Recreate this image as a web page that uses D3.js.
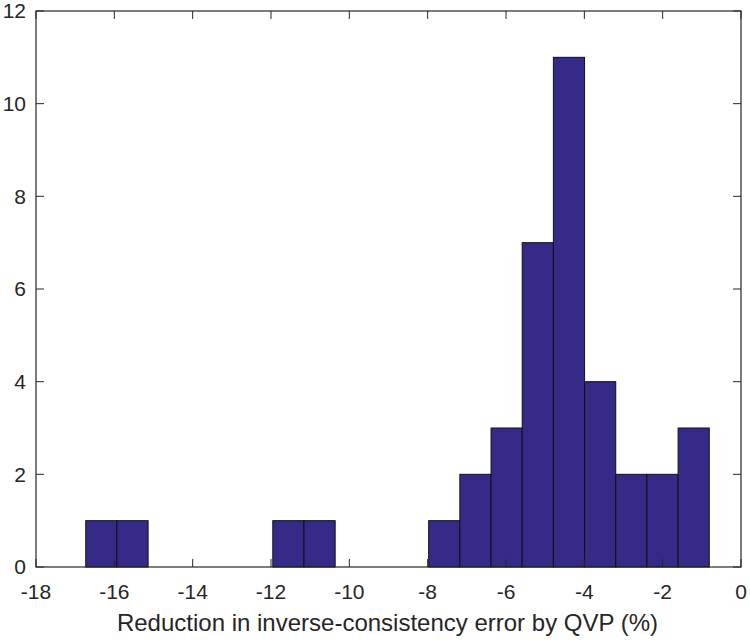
<!DOCTYPE html>
<html>
<head>
<meta charset="utf-8">
<script src="https://cdn.jsdelivr.net/npm/d3@7"></script>
<style>
  body { margin: 0; background: #fff; }
  text { font-family: "Liberation Sans", Arial, sans-serif; fill: #262626; }
</style>
</head>
<body>
<div id="chart"></div>
<script>
// histogram bins (left edges follow from binStart + i * binWidth)
const binStart = -16.73;
const binWidth = 0.796;
const counts = [1, 1, 0, 0, 0, 0, 1, 1, 0, 0, 0, 1, 2, 3, 7, 11, 4, 2, 2, 3];
const xTicks = [-18, -16, -14, -12, -10, -8, -6, -4, -2, 0];
const yTicks = [0, 2, 4, 6, 8, 10, 12];
const xLabel = 'Reduction in inverse-consistency error by QVP (%)';

const width = 750;
const height = 640;
const margin = { top: 11, right: 9, bottom: 73, left: 36 };
const w = width - margin.left - margin.right;
const h = height - margin.top - margin.bottom;

const bins = counts.map((c, i) => ({ x0: binStart + i * binWidth, x1: binStart + (i + 1) * binWidth, count: c }));

const svg = d3.select('#chart').append('svg').attr('width', width).attr('height', height);
const g = svg.append('g').attr('transform', `translate(${margin.left}, ${margin.top})`);

const x = d3.scaleLinear().domain([-18, 0]).range([0, w]);
const y = d3.scaleLinear().domain([0, 12]).range([h, 0]);

g.selectAll('.bar')
  .data(bins.filter((d) => d.count > 0))
  .enter()
  .append('rect')
  .attr('class', 'bar')
  .attr('x', (d) => x(d.x0))
  .attr('y', (d) => y(d.count))
  .attr('width', (d) => x(d.x1) - x(d.x0))
  .attr('height', (d) => h - y(d.count))
  .attr('fill', '#352a87')
  .attr('stroke', '#111')
  .attr('stroke-width', 1);

const axisColor = '#262626';
const tickLen = 8;

// box
g.append('rect')
  .attr('width', w)
  .attr('height', h)
  .attr('fill', 'none')
  .attr('stroke', axisColor)
  .attr('stroke-width', 1.2);

// ticks on all four sides, pointing in
xTicks.forEach((t) => {
  g.append('line').attr('x1', x(t)).attr('x2', x(t)).attr('y1', h).attr('y2', h - tickLen).attr('stroke', axisColor);
  g.append('line').attr('x1', x(t)).attr('x2', x(t)).attr('y1', 0).attr('y2', tickLen).attr('stroke', axisColor);
});
yTicks.forEach((t) => {
  g.append('line').attr('x1', 0).attr('x2', tickLen).attr('y1', y(t)).attr('y2', y(t)).attr('stroke', axisColor);
  g.append('line').attr('x1', w).attr('x2', w - tickLen).attr('y1', y(t)).attr('y2', y(t)).attr('stroke', axisColor);
});

g.selectAll('.xtl')
  .data(xTicks)
  .enter()
  .append('text')
  .attr('x', (d) => x(d))
  .attr('y', h + 32)
  .attr('text-anchor', 'middle')
  .attr('font-size', 21)
  .text((d) => d);

g.selectAll('.ytl')
  .data(yTicks)
  .enter()
  .append('text')
  .attr('x', -10)
  .attr('y', (d) => y(d))
  .attr('dy', '0.35em')
  .attr('text-anchor', 'end')
  .attr('font-size', 21)
  .text((d) => d);

g.append('text')
  .attr('x', w / 2 - 1)
  .attr('y', h + 64)
  .attr('text-anchor', 'middle')
  .attr('font-size', 24)
  .text(xLabel);
</script>
</body>
</html>
